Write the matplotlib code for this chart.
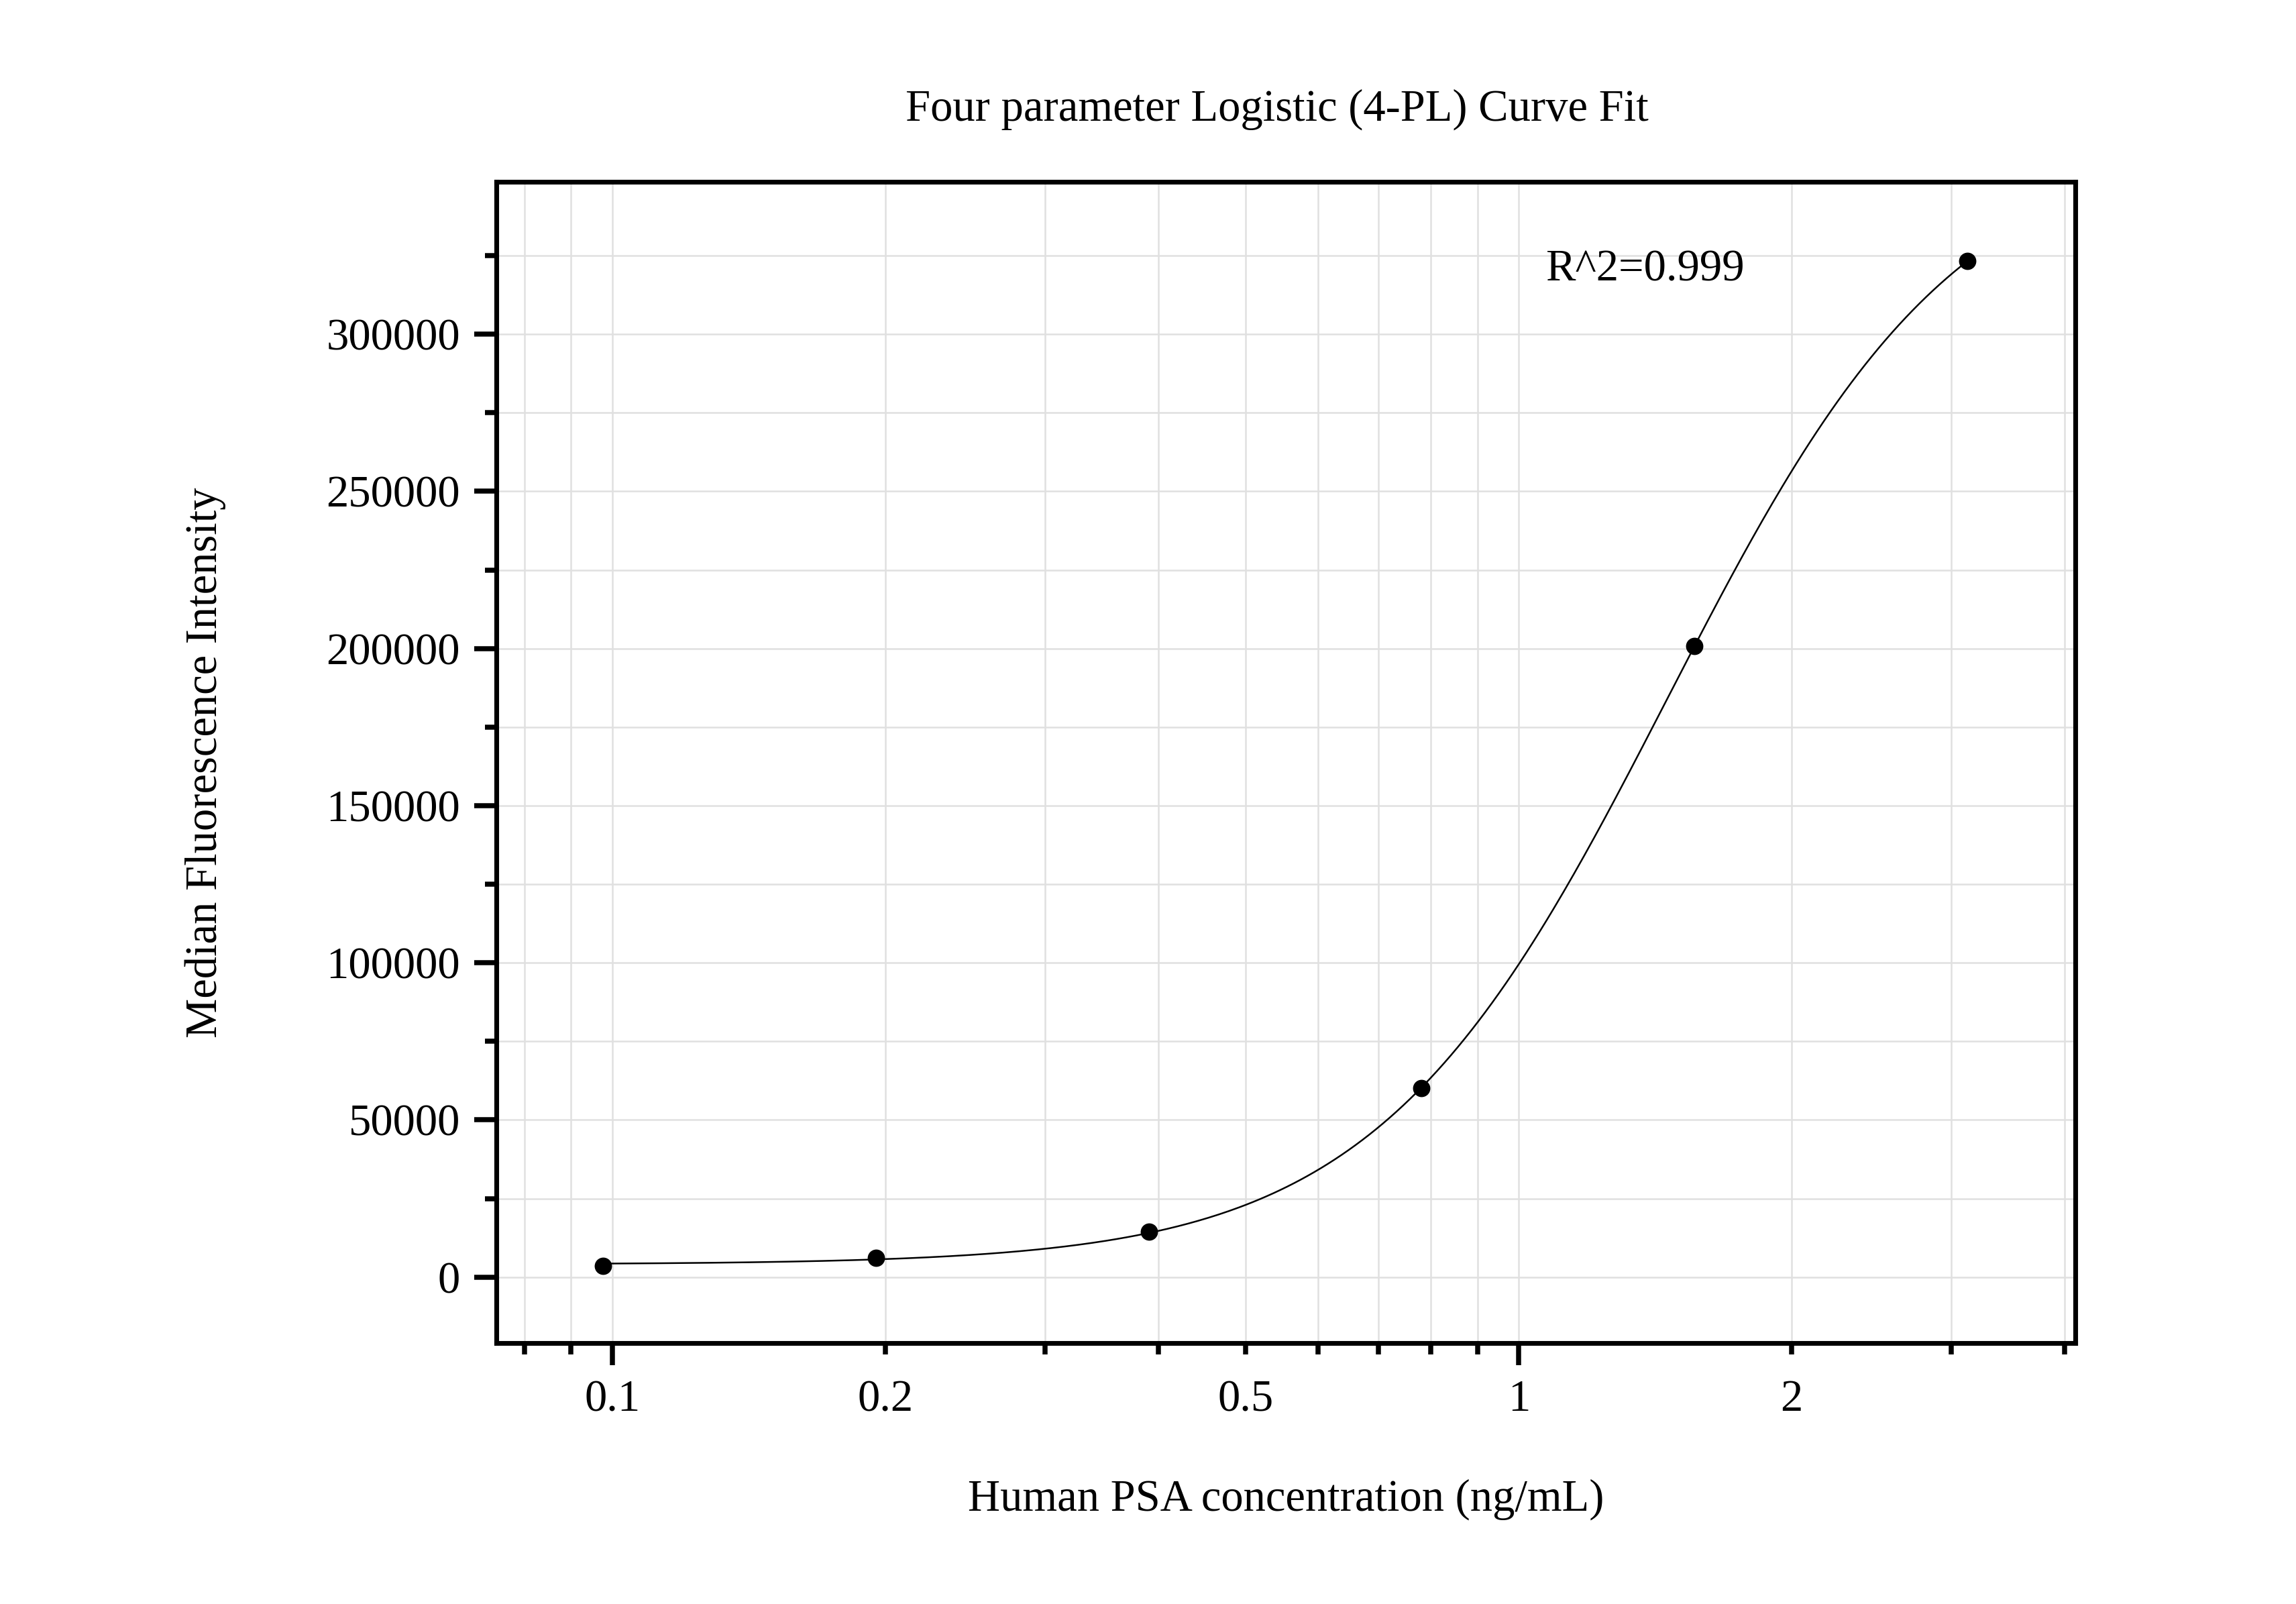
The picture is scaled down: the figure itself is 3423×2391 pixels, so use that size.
import numpy as np
import matplotlib
matplotlib.use("Agg")
import matplotlib.pyplot as plt

# standard concentrations (ng/mL) and measured MFI
conc = [0.0977, 0.1953, 0.3906, 0.7813, 1.5625, 3.125]
mfi = [3570, 6210, 14360, 60100, 200800, 323300]

x_major = [0.1, 1]
x_minor = [0.08, 0.09, 0.2, 0.3, 0.4, 0.5, 0.6, 0.7, 0.8, 0.9, 2, 3, 4]
x_minor_labels = ['', '', '0.2', '', '', '0.5', '', '', '', '', '2', '', '']
y_major = [0, 50000, 100000, 150000, 200000, 250000, 300000]
y_minor = [25000, 75000, 125000, 175000, 225000, 275000, 325000]
r2_text = "R^2=0.999"


def fit_4pl(x, y):
    """Least squares 4-PL fit: grid over slope/EC50, linear solve for bottom/top."""
    x = np.asarray(x, float)
    y = np.asarray(y, float)
    b = np.linspace(0.5, 6, 221)[:, None, None]
    c = np.exp(np.linspace(np.log(0.3), np.log(10), 500))[None, :, None]
    f = 1 / (1 + (x[None, None, :] / c) ** b)
    g = 1 - f
    a11 = (f * f).sum(-1)
    a12 = (f * g).sum(-1)
    a22 = (g * g).sum(-1)
    r1 = (f * y).sum(-1)
    r2 = (g * y).sum(-1)
    det = a11 * a22 - a12 ** 2
    bottom = (r1 * a22 - r2 * a12) / det
    top = (a11 * r2 - a12 * r1) / det
    pred = bottom[..., None] * f + top[..., None] * g
    sse = ((pred - y) ** 2).sum(-1)
    i, j = np.unravel_index(np.argmin(sse), sse.shape)
    return bottom[i, j], top[i, j], b[i, 0, 0], c[0, j, 0]


plt.rcParams['font.family'] = ['Liberation Serif', 'DejaVu Serif']
plt.rcParams['font.size'] = 16

fig = plt.figure(figsize=(3423 / 300, 2391 / 300), dpi=300)
ax = fig.add_axes([740 / 3423, 1 - 2002 / 2391, 2354 / 3423, 1731 / 2391])

A, D, B, C = fit_4pl(conc, mfi)
xs = np.logspace(np.log10(conc[0]), np.log10(conc[-1]), 400)
ys = D + (A - D) / (1 + (xs / C) ** B)
ax.plot(xs, ys, color='black', lw=0.6, zorder=3)
ax.plot(conc, mfi, 'o', color='black', ms=5.2, zorder=4)

ax.set_xscale('log')
ax.set_xlim(0.0745, 4.11)
ax.set_ylim(-21000, 348500)

ax.set_xticks(x_major, labels=['0.1', '1'])
ax.set_xticks(x_minor, labels=x_minor_labels, minor=True)
ax.set_yticks(y_major, labels=[str(v) for v in y_major])
ax.set_yticks(y_minor, minor=True)

ax.tick_params(which='major', direction='out', length=8, width=1.8, pad=5, labelsize=16)
ax.tick_params(which='minor', direction='out', length=4, width=1.8, pad=9, labelsize=16)
ax.tick_params(top=False, right=False, which='both')

ax.grid(True, which='both', color='#e0e0e0', lw=0.6, zorder=0)
ax.set_axisbelow(True)
for s in ax.spines.values():
    s.set_linewidth(1.7)

ax.text(1.07, 317000, r2_text, fontsize=16, va='baseline', ha='left')

ax.set_title("Four parameter Logistic (4-PL) Curve Fit", fontsize=16,
             x=0.4945, y=1.048, va='center')
ax.set_xlabel("Human PSA concentration (ng/mL)", fontsize=16)
ax.set_ylabel("Median Fluorescence Intensity", fontsize=16)
ax.xaxis.label.set_va('center')
ax.yaxis.label.set_va('center')
ax.xaxis.set_label_coords(0.5, -0.1346)
ax.yaxis.set_label_coords(-0.1844, 0.5)

fig.savefig("out.png", dpi=300)
